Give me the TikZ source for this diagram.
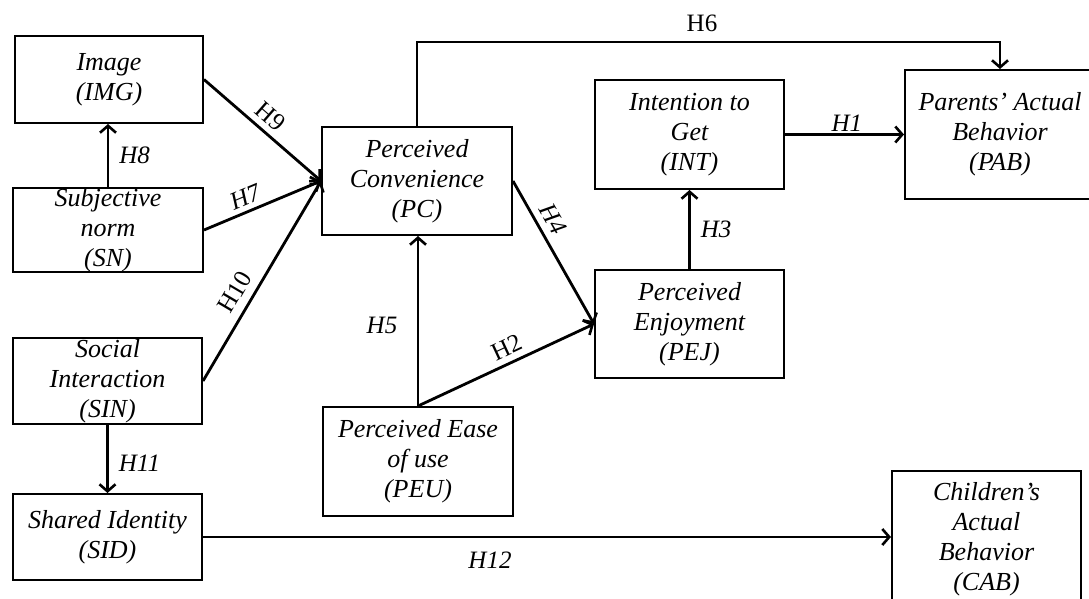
\documentclass[tikz,border=0pt]{standalone}
\usepackage{fontspec}
\setmainfont{Liberation Serif}
\usetikzlibrary{arrows.meta}
\tikzset{
  box/.style={draw, line width=2pt, rectangle, inner sep=0pt, align=center,
    font=\fontsize{26}{30}\selectfont\itshape},
  conn/.style={line width=2.8pt, -{Straight Barb[length=7pt,width=16pt,line width=2.6pt]}},
  lab/.style={font=\fontsize{25}{28}\selectfont\itshape, inner sep=2pt},
  labr/.style={font=\fontsize{25}{28}\selectfont, inner sep=2pt}
}
\begin{document}
\begin{tikzpicture}[x=1pt,y=-1pt]
\useasboundingbox (0,0) rectangle (1089,598);
% boxes
\node[box, minimum width=188pt, minimum height=87pt] (IMG) at (109,79.5) {Image\\(IMG)};
\node[box, minimum width=190pt, minimum height=84pt] (SN) at (108,230) {Subjective\\norm\\(SN)};
\node[box, minimum width=189pt, minimum height=86pt] (SIN) at (107.5,381) {Social\\Interaction\\(SIN)};
\node[box, minimum width=189pt, minimum height=86pt] (SID) at (107.5,537) {Shared Identity\\(SID)};
\node[box, minimum width=190pt, minimum height=108pt] (PC) at (417,181) {Perceived\\Convenience\\(PC)};
\node[box, minimum width=190pt, minimum height=109pt] (PEU) at (418,461.5) {Perceived Ease\\of use\\(PEU)};
\node[box, minimum width=189pt, minimum height=108pt] (PEJ) at (689.5,324) {Perceived\\Enjoyment\\(PEJ)};
\node[box, minimum width=189pt, minimum height=109pt] (INT) at (689.5,134.5) {Intention to\\Get\\(INT)};
\node[box, minimum width=190pt, minimum height=129pt] (PAB) at (1000,134.5) {Parents’ Actual\\Behavior\\(PAB)};
\node[box, minimum width=189pt, minimum height=136pt] (CAB) at (986.5,539) {Children’s\\Actual\\Behavior\\(CAB)};
% connectors
\draw[conn] (IMG.east) -- node[labr, sloped, above=4pt, pos=0.48] {H9} (PC.west);
\draw[conn] (SN.east) -- node[lab, sloped, above=3pt, pos=0.4] {H7} (PC.west);
\draw[conn] (SIN.east) -- node[labr, sloped, above=6pt, pos=0.4] {H10} (PC.west);
\draw[conn] (SN.north) -- node[lab, right, xshift=8pt] {H8} (SN.north |- IMG.south);
\draw[conn] (SIN.south) -- node[lab, right, xshift=8pt, yshift=-4pt] {H11} (SIN.south |- SID.north);
\draw[conn] (SID.east) -- (SID.east -| CAB.west);
\node[lab] (L12) at (490,560) {H12};
\draw[conn] (PEU.north) -- (PEU.north |- PC.south);
\node[lab] (L5) at (382,325) {H5};
\draw[conn] (PEU.north) -- node[labr, sloped, above=4pt, pos=0.54] {H2} (PEJ.west);
\draw[conn] (PC.east) -- node[lab, sloped, above=5pt, pos=0.32] {H4} (PEJ.west);
\draw[conn] (PEJ.north) -- node[lab, right, xshift=8pt] {H3} (INT.south);
\draw[conn] (INT.east) -- node[lab, above, pos=0.52] {H1} (PAB.west);
\coordinate (c1) at (417,42);
\coordinate (c2) at (1000,42);
\draw[conn] (PC.north) -- (c1) -- (c2) -- (PAB.north);
\node[labr] (L6) at (702,23) {H6};
\end{tikzpicture}
\end{document}
